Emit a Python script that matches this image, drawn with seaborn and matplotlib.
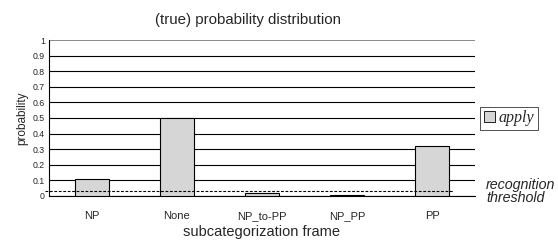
import pandas as pd
import matplotlib.pyplot as plt
import seaborn as sns
from matplotlib.patches import Patch

# data
frames = ['NP', 'None', 'NP_to-PP', 'NP_PP', 'PP']
probs = [0.107, 0.5, 0.02, 0.006, 0.32]
series = ['apply'] * len(frames)
threshold = 0.03

df = pd.DataFrame({'frame': frames, 'probability': probs, 'series': series})

sns.set_style('white')
plt.rcParams['font.family'] = ['Liberation Sans', 'DejaVu Sans']

fig = plt.figure(figsize=(5.58, 2.44), dpi=100)
ax = fig.add_axes([0.0878, 0.197, 0.763, 0.639])

sns.barplot(x='frame', y='probability', hue='series', data=df, ax=ax,
            palette=['#d6d6d6'], edgecolor='black', linewidth=0.8,
            width=0.4, legend=False, zorder=3)

ax.set_ylim(0, 1)
ax.set_xlim(-0.5, 4.5)
ax.set_yticks([i / 10 for i in range(11)])
ax.set_yticklabels(['0'] + ['0.%d' % i for i in range(1, 10)] + ['1'], fontsize=6.3)
ax.yaxis.grid(True, color='black', linewidth=0.8, zorder=0)
ax.get_ygridlines()[-1].set_color('#777777')
ax.get_ygridlines()[-1].set_linewidth(1.2)
ax.set_axisbelow(True)

# category labels centred, tick marks between categories
ax.set_xticks(range(len(frames)))
ax.set_xticklabels(frames, fontsize=8)
ax.tick_params(axis='x', length=0, pad=11)
ax.set_xticks([i + 0.5 for i in range(-1, 5)], minor=True)
ax.tick_params(axis='x', which='minor', length=3, direction='out', color='black', width=0.8)
ax.tick_params(axis='y', length=0, pad=3)

for s in ['top', 'right']:
    ax.spines[s].set_visible(False)
ax.spines['left'].set_color('black')
ax.spines['left'].set_linewidth(0.8)
ax.spines['bottom'].set_color('black')
ax.spines['bottom'].set_linewidth(0.8)

# recognition threshold
ax.axhline(threshold, color='black', linestyle=(0, (2.5, 1.5)), linewidth=0.8, zorder=4,
           clip_on=False, xmin=-0.01, xmax=0.948)

fig.text(0.445, 0.918, '(true) probability distribution', fontsize=10.8,
         ha='center', va='center')
ax.set_xlabel('subcategorization frame', fontsize=10.5, labelpad=3)
ax.set_ylabel('probability', fontsize=8.5, labelpad=3)

# legend box
handle = Patch(facecolor='#d6d6d6', edgecolor='black', linewidth=0.6)
leg = fig.legend([handle], ['apply'], loc='center left', bbox_to_anchor=(0.861, 0.515),
                 prop={'family': 'Liberation Serif', 'style': 'italic', 'size': 11.5},
                 frameon=True, fancybox=False, handlelength=0.7, handleheight=0.7,
                 handletextpad=0.25, borderpad=0.2, borderaxespad=0)
leg.get_frame().set_edgecolor('black')
leg.get_frame().set_linewidth(0.6)

fig.text(0.871, 0.215, 'recognition\nthreshold', fontsize=10.3, style='italic',
         ha='left', va='center', linespacing=0.95)

fig.savefig('out.png', dpi=100)
